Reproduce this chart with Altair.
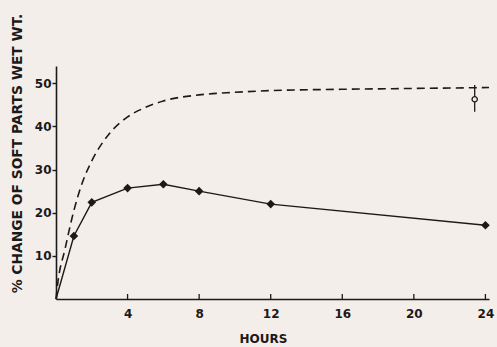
import altair as alt
import pandas as pd

# solid series (measured points)
solid_hours = [0, 1, 2, 4, 6, 8, 12, 24]
solid_values = [0, 14.6, 22.4, 25.7, 26.6, 25.0, 22.0, 17.1]
marker_hours = [1, 2, 4, 6, 8, 12, 24]
marker_values = [14.6, 22.4, 25.7, 26.6, 25.0, 22.0, 17.1]

# dashed curve
dash_hours = [0, 0.1, 0.5, 1, 1.5, 2, 3, 4, 5, 6, 8, 10, 12, 16, 20, 24.2]
dash_values = [0, 3.7, 11.5, 20.5, 27.3, 32.0, 38.4, 42.2, 44.4, 45.9, 47.3, 47.9, 48.3, 48.6, 48.8, 49.0]

# open point with error bar
open_hour = [23.4]
open_value = [46.3]
err_low = [43.4]
err_high = [49.6]

x_ticks = [4, 8, 12, 16, 20, 24]
y_ticks = [10, 20, 30, 40, 50]

INK = "#1c1a19"
BG = "#f4eeea"
FONT = "DejaVu Sans"

solid_df = pd.DataFrame({"h": solid_hours, "v": solid_values})
marker_df = pd.DataFrame({"h": marker_hours, "v": marker_values})
dash_df = pd.DataFrame({"h": dash_hours, "v": dash_values})
open_df = pd.DataFrame({"h": open_hour, "v": open_value, "lo": err_low, "hi": err_high})
tick_df = pd.DataFrame({"h": x_ticks})

xscale = alt.Scale(domain=[0, 24.2], nice=False, zero=True)
yscale = alt.Scale(domain=[0, 54], nice=False)

x_enc = alt.X("h:Q", scale=xscale, axis=alt.Axis(
    values=x_ticks, title="HOURS", tickSize=0, labelPadding=9,
    grid=False, domainColor=INK, domainWidth=1.6, labelColor=INK,
    labelFont=FONT, labelFontSize=12, labelFontWeight="bold",
    titleFont=FONT, titleFontSize=12, titleFontWeight="bold", titleColor=INK,
    titleX=207, titleY=39, titleBaseline="middle", titleAlign="center"))
y_enc = alt.Y("v:Q", scale=yscale, axis=alt.Axis(
    values=y_ticks, title="% CHANGE OF SOFT PARTS WET WT.", tickSize=4,
    tickColor=INK, tickWidth=1.4, labelPadding=1,
    grid=False, domainColor=INK, domainWidth=1.6, labelColor=INK,
    labelFont=FONT, labelFontSize=12, labelFontWeight="bold",
    titleFont=FONT, titleFontSize=13.8, titleFontWeight="bold", titleColor=INK,
    titleX=-39, titleY=87, titleAngle=270, titleBaseline="middle", titleAlign="center"))

dash = alt.Chart(dash_df).mark_line(
    color=INK, strokeWidth=1.6, strokeDash=[8, 5], interpolate="monotone"
).encode(x=x_enc, y=y_enc)

solid = alt.Chart(solid_df).mark_line(color=INK, strokeWidth=1.4).encode(
    x=alt.X("h:Q", scale=xscale), y=alt.Y("v:Q", scale=yscale))

markers = alt.Chart(marker_df).mark_point(
    shape="diamond", filled=True, color=INK, size=75, opacity=1
).encode(x=alt.X("h:Q", scale=xscale), y=alt.Y("v:Q", scale=yscale))

err = alt.Chart(open_df).mark_rule(color=INK, strokeWidth=1.3).encode(
    x=alt.X("h:Q", scale=xscale), y=alt.Y("lo:Q", scale=yscale), y2="hi:Q")

open_pt = alt.Chart(open_df).mark_point(
    shape="circle", filled=True, fill=BG, stroke=INK, strokeWidth=1.3, size=28, opacity=1
).encode(x=alt.X("h:Q", scale=xscale), y=alt.Y("v:Q", scale=yscale))

xticks = alt.Chart(tick_df).mark_rule(color=INK, strokeWidth=1.3).encode(
    x=alt.X("h:Q", scale=xscale), y=alt.value(233), y2=alt.value(228))

chart = alt.layer(dash, solid, markers, err, open_pt, xticks).properties(
    width=433, height=233,
    padding={"left": 56, "top": 66, "right": 8, "bottom": 48},
    autosize=alt.AutoSizeParams(type="none"),
    background=BG,
).configure_view(stroke=None)

chart.save("out.html", embed_options={"renderer": "svg", "actions": False})
